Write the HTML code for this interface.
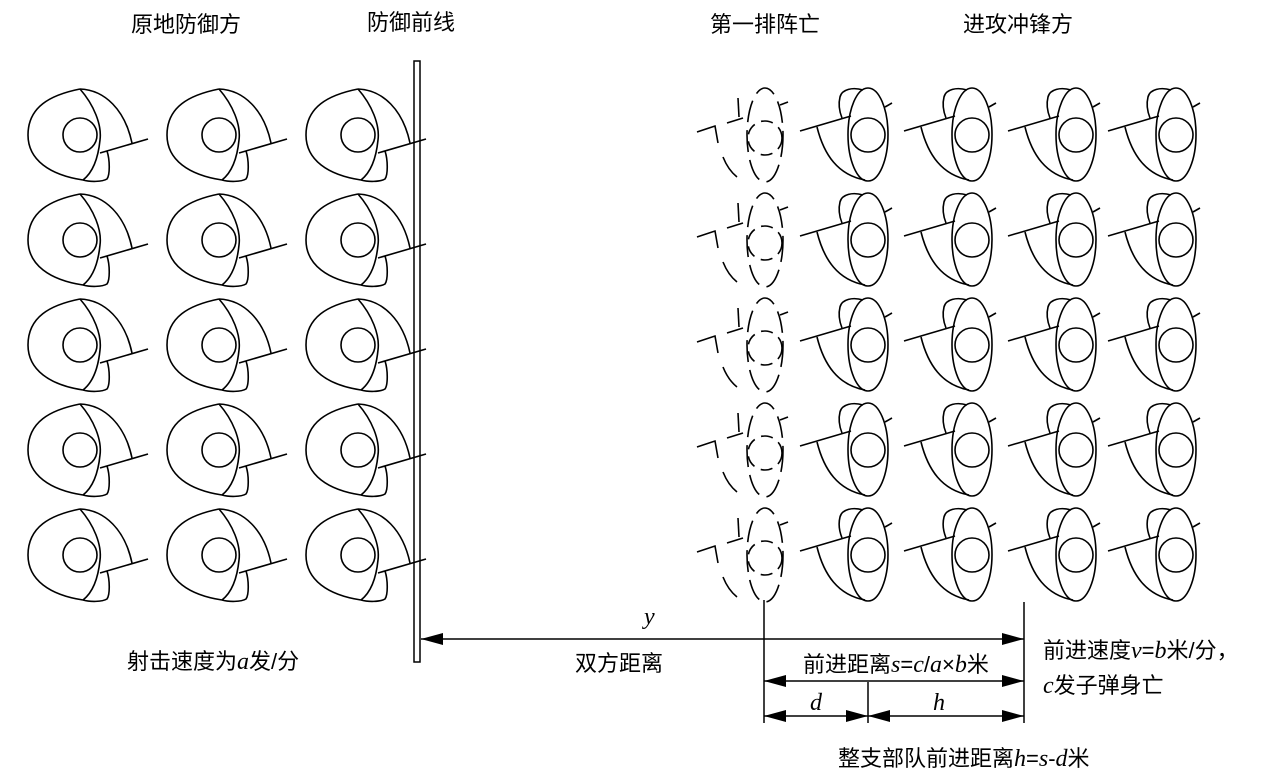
<!DOCTYPE html>
<html><head><meta charset="utf-8"><style>
html,body{margin:0;padding:0;background:#fff;}
svg{display:block}
text{font-family:"Liberation Sans","Noto Sans CJK SC",sans-serif;font-size:22px;fill:#000}
.i{font-family:"Liberation Serif",serif;font-style:italic;font-size:24px}
</style></head><body>
<svg width="1269" height="781" viewBox="0 0 1269 781" xmlns="http://www.w3.org/2000/svg">
<defs>
<g id="def" fill="none" stroke="#000" stroke-width="1.6">
<circle cx="0" cy="0" r="17"/>
<path d="M0,-46 C-30,-40 -52,-28 -52,0 C-52,25 -30,40 3,45"/>
<path d="M0,-46 C14,-30 22,-10 20,5 C18,25 12,38 3,45"/>
<path d="M0,-46 C25,-45 45,-25 52,8"/>
<path d="M20,18 L68,4"/>
<path d="M27,16 C30,25 30,40 27,44 C22,47 10,47 3,45"/>
</g>
<g id="att" fill="none" stroke="#000" stroke-width="1.6">
<circle cx="0" cy="0" r="17"/>
<ellipse cx="0" cy="-0.5" rx="20" ry="46.5"/>
<path d="M-5,-45 C-15,-48 -26,-46 -28,-38 C-30,-30 -28,-22 -26,-17"/>
<path d="M-68,-4 L-17,-19"/>
<path d="M17,-28 L24,-32"/>
<path d="M-51,-8 C-44,20 -30,40 -3,45"/>
</g>
<g id="dead" fill="none" stroke="#000" stroke-width="1.6">
<circle cx="0" cy="3" r="17" stroke-dasharray="12,7"/>
<ellipse cx="0" cy="0" rx="18" ry="47" stroke-dasharray="22,8"/>
<path d="M-68,-3 L-50,-9 L-47,8"/>
<path d="M-38,-12 L-22,-17"/>
<path d="M-27,-37 L-26,-18"/>
<path d="M-42,22 C-38,32 -33,38 -28,42"/>
<path d="M15,-30 L23,-33"/>
</g>
<marker id="ah" markerWidth="24" markerHeight="12" refX="22" refY="6" orient="auto" markerUnits="userSpaceOnUse">
<path d="M0,0 L22,6 L0,12 Z" fill="#000"/>
</marker>
<marker id="as" markerWidth="24" markerHeight="12" refX="0" refY="6" orient="auto" markerUnits="userSpaceOnUse">
<path d="M22,0 L0,6 L22,12 Z" fill="#000"/>
</marker>
</defs>

<text x="131" y="32">原地防御方</text>
<text x="367" y="30">防御前线</text>
<text x="710" y="32">第一排阵亡</text>
<text x="963" y="32">进攻冲锋方</text>

<rect x="414" y="61" width="6" height="601" fill="#fff" stroke="#000" stroke-width="1.5"/>

<g>
<use href="#def" x="80" y="135"/><use href="#def" x="219" y="135"/><use href="#def" x="358" y="135"/>
<use href="#def" x="80" y="240"/><use href="#def" x="219" y="240"/><use href="#def" x="358" y="240"/>
<use href="#def" x="80" y="345"/><use href="#def" x="219" y="345"/><use href="#def" x="358" y="345"/>
<use href="#def" x="80" y="450"/><use href="#def" x="219" y="450"/><use href="#def" x="358" y="450"/>
<use href="#def" x="80" y="555"/><use href="#def" x="219" y="555"/><use href="#def" x="358" y="555"/>
</g>
<g>
<use href="#dead" x="765" y="135"/><use href="#att" x="868" y="135"/><use href="#att" x="972" y="135"/><use href="#att" x="1076" y="135"/><use href="#att" x="1176" y="135"/>
<use href="#dead" x="765" y="240"/><use href="#att" x="868" y="240"/><use href="#att" x="972" y="240"/><use href="#att" x="1076" y="240"/><use href="#att" x="1176" y="240"/>
<use href="#dead" x="765" y="345"/><use href="#att" x="868" y="345"/><use href="#att" x="972" y="345"/><use href="#att" x="1076" y="345"/><use href="#att" x="1176" y="345"/>
<use href="#dead" x="765" y="450"/><use href="#att" x="868" y="450"/><use href="#att" x="972" y="450"/><use href="#att" x="1076" y="450"/><use href="#att" x="1176" y="450"/>
<use href="#dead" x="765" y="555"/><use href="#att" x="868" y="555"/><use href="#att" x="972" y="555"/><use href="#att" x="1076" y="555"/><use href="#att" x="1176" y="555"/>
</g>

<g stroke="#000" stroke-width="1.5" fill="none">
<line x1="764" y1="600" x2="764" y2="723"/>
<line x1="1024" y1="602" x2="1024" y2="723"/>
<line x1="868" y1="682" x2="868" y2="723"/>
<line x1="421" y1="639" x2="1024" y2="639" marker-start="url(#as)" marker-end="url(#ah)"/>
<line x1="764" y1="681" x2="1024" y2="681" marker-start="url(#as)" marker-end="url(#ah)"/>
<line x1="764" y1="716" x2="868" y2="716" marker-start="url(#as)" marker-end="url(#ah)"/>
<line x1="868" y1="716" x2="1024" y2="716" marker-start="url(#as)" marker-end="url(#ah)"/>
</g>

<text x="644" y="624" class="i">y</text>
<text x="575" y="671">双方距离</text>
<text x="127" y="669">射击速度为<tspan class="i">a</tspan>发/分</text>
<text x="803" y="672">前进距离<tspan class="i">s</tspan>=<tspan class="i">c</tspan>/<tspan class="i">a</tspan>×<tspan class="i">b</tspan>米</text>
<text x="810" y="710" class="i">d</text>
<text x="933" y="710" class="i">h</text>
<text x="1043" y="658">前进速度<tspan class="i">v</tspan>=<tspan class="i">b</tspan>米/分，</text>
<text x="1043" y="693"><tspan class="i">c</tspan>发子弹身亡</text>
<text x="838" y="766">整支部队前进距离<tspan class="i">h</tspan>=<tspan class="i">s</tspan>-<tspan class="i">d</tspan>米</text>
</svg>
</body></html>
